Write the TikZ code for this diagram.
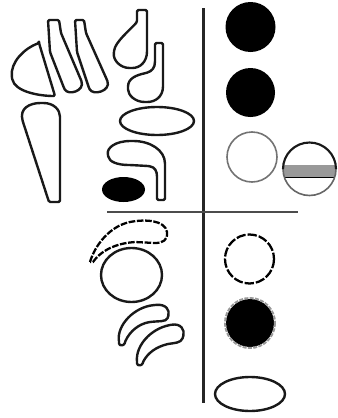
\documentclass[tikz,border=0pt]{standalone}
\begin{document}
\begin{tikzpicture}[x=0.75pt,y=-0.75pt,
  outl/.style={draw=black!90,line width=1.8pt,line join=round,rounded corners=1pt},
  dashoutl/.style={draw=black,line width=1.7pt,dash pattern=on 5pt off 1.2pt},
  blob/.style={fill=black},
  axis/.style={draw=black!85,line width=1.7pt}]
\useasboundingbox (0,0) rectangle (337,418);
% axes
\coordinate (vt) at (203.5,8);
\coordinate (vb) at (203.5,403);
\coordinate (hl) at (107,212);
\coordinate (hr) at (298,212);
\draw[axis] (vt) -- (vb);
\draw[axis,draw=black!70] (hl) -- (hr);
% dome
\draw[outl] (39,43) -- (55,96) .. controls (40,96) and (15,92) .. (12,78)
  .. controls (10,62) and (25,48) .. (39,43) -- cycle;
% fingers
\draw[outl] (48,20) -- (59,20) -- (61,33) -- (81,80) .. controls (85,91) and (68,96) .. (64,88) -- (50,52) -- cycle;
\draw[outl] (75,20) -- (84,20) -- (86,33) -- (107,80) .. controls (111,91) and (93,96) .. (89,88) -- (77,52) -- cycle;
% teardrop
\draw[outl] (60,202) -- (49,202) -- (23,122) .. controls (19,108) and (30,103) .. (42,103)
  .. controls (54,103) and (60,110) .. (60,118) -- cycle;
% hooks
\draw[outl] (137,10) -- (147,10) -- (147,50) .. controls (147,62) and (140,68) .. (131,68)
  .. controls (120,68) and (113,60) .. (114,52) .. controls (115,42) and (130,30) .. (137,22) -- cycle;
\draw[outl] (155,43) -- (163,43) -- (163,85) .. controls (163,97) and (155,102) .. (146,102)
  .. controls (135,102) and (128,95) .. (128,88) .. controls (128,78) and (137,75) .. (146,73)
  .. controls (152,71) and (155,68) .. (155,60) -- cycle;
% horizontal ellipse
\draw[outl] (157,121) ellipse [x radius=37, y radius=14];
% J shape
\draw[outl] (165,200) -- (165,165) .. controls (165,150) and (150,141) .. (132,141)
  .. controls (115,141) and (107,148) .. (108,155) .. controls (109,162) and (118,165) .. (130,165)
  -- (148,166) .. controls (155,167) and (157,171) .. (157,178) -- (157,200) -- cycle;
% black ellipse
\fill[blob] (123.5,189.5) ellipse [x radius=21.5, y radius=12.5];
% dashed comma
\draw[dashoutl] (90,262) .. controls (95,245) and (110,226) .. (130,222)
  .. controls (145,219) and (165,220) .. (167,232) .. controls (168,240) and (163,243) .. (155,243)
  -- (135,242) .. controls (120,243) and (103,248) .. (93,262) -- cycle;
% circle
\draw[outl] (131.5,275) ellipse [x radius=30.5, y radius=27];
% crescents
\draw[outl] (119,342) .. controls (117,325) and (134,307) .. (155,305)
  .. controls (166,304) and (170,310) .. (168,317) .. controls (166,322) and (158,321) .. (150,322)
  .. controls (139,324) and (130,331) .. (125,342) .. controls (124,346) and (119,346) .. (119,342) -- cycle;
\draw[outl] (137,362) .. controls (136,345) and (151,329) .. (170,325)
  .. controls (181,323) and (185,330) .. (183,337) .. controls (181,343) and (174,343) .. (168,344)
  .. controls (156,347) and (148,353) .. (143,362) .. controls (142,366) and (137,366) .. (137,362) -- cycle;
% right column
\fill[blob] (250.5,27) circle [radius=25];
\fill[blob] (250.5,92.5) circle [radius=24.5];
\draw[draw=black!55,line width=1.2pt] (252,157) circle [radius=25];
% split circle
\begin{scope}
  \clip (309.5,169) circle [radius=26.5];
  \fill[black!40] (280,165) rectangle (340,177);
  \draw[black,line width=1.1pt] (280,177.5) -- (340,177.5);
\end{scope}
\draw[draw=black!60,line width=1.2pt] (283,169) arc [start angle=180, end angle=0, radius=26.5];
\draw[draw=black!90,line width=1.6pt] (283,169) arc [start angle=180, end angle=360, radius=26.5];
% dashed circle
\draw[black,line width=1.7pt,dash pattern=on 7pt off 1.5pt] (249.5,259) circle [radius=24.5];
% filled with gray border
\fill[black] (250,323) circle [radius=24];
\draw[black!40,line width=1.5pt,dash pattern=on 3pt off 1pt] (250,323) circle [radius=25];
% ellipse
\draw[outl] (250,394) ellipse [x radius=35, y radius=17];
\end{tikzpicture}
\end{document}
